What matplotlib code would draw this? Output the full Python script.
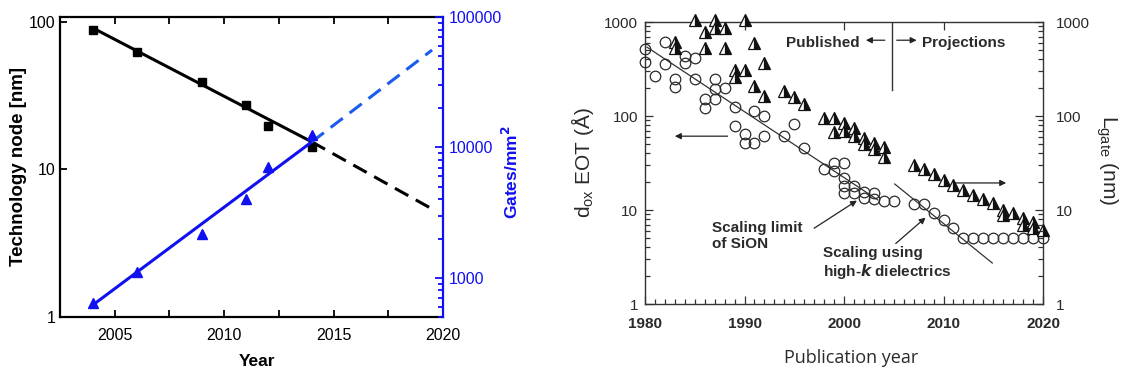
import matplotlib
matplotlib.use('Agg')
import matplotlib.pyplot as plt
from matplotlib.ticker import LogLocator, NullFormatter, FixedLocator, MultipleLocator, FuncFormatter

plt.rcParams['font.family'] = ['Liberation Sans', 'DejaVu Sans']

# ---------------- Left panel data ----------------
node_years = [2004, 2006, 2009, 2011, 2012, 2014]
node_nm = [88, 63, 39, 27.5, 19.7, 14.2]
gate_years = [2004, 2006, 2009, 2011, 2012, 2014]
gates_mm2 = [640, 1110, 2170, 4020, 7070, 12400]
node_fit_years = [2004, 2014]
node_fit = [91, 15.4]
node_proj_years = [2014, 2019.5]
node_proj = [15.4, 5.4]
gate_fit_years = [2004, 2014]
gate_fit = [618, 11000]
gate_proj_years = [2014, 2019.5]
gate_proj = [11000, 55800]
left_xticks = [2005, 2010, 2015, 2020]

# ---------------- Right panel data ----------------
eot_years = [1980, 1980, 1981, 1982, 1982, 1983, 1983, 1984, 1984, 1985, 1985,
             1986, 1986, 1987, 1987, 1987, 1988, 1989, 1989, 1990, 1990,
             1991, 1991, 1992, 1992, 1994, 1995, 1996, 1998, 1999, 1999,
             2000, 2000, 2000, 2000, 2001, 2001, 2002, 2002, 2003, 2003,
             2004, 2005, 2007, 2008, 2009, 2010, 2011,
             2012, 2013, 2014, 2015, 2016, 2017, 2018, 2019, 2020]
eot_A = [515, 375, 265, 610, 360, 250, 205, 440, 365, 410, 250,
         150, 122, 250, 195, 150, 200, 125, 78, 65, 52,
         112, 52, 100, 62, 62, 82, 46, 27, 32, 26,
         32, 22, 18, 15, 18, 15, 15.5, 13.5, 15, 13,
         12.5, 12.5, 11.5, 11.5, 9.3, 7.8, 6.5,
         5.0, 5.0, 5.0, 5.0, 5.0, 5.0, 5.0, 5.0, 5.0]
lgate_years = [1983, 1983, 1985, 1986, 1986, 1987, 1987, 1988, 1988, 1989, 1989,
               1990, 1990, 1991, 1991, 1992, 1992, 1994, 1995, 1996, 1998,
               1999, 1999, 2000, 2000, 2001, 2001, 2002, 2002, 2003, 2003,
               2004, 2004, 2007, 2008, 2009, 2010, 2011, 2012, 2013, 2014,
               2015, 2016, 2016, 2017, 2018, 2018, 2019, 2019, 2020]
lgate_nm = [610, 530, 1050, 780, 530, 1050, 870, 870, 530, 310, 260,
            1050, 310, 600, 210, 370, 165, 185, 160, 135, 95,
            95, 68, 84, 70, 75, 62, 58, 50, 52, 45,
            47, 37, 30, 27, 24, 21, 18.5, 16.5, 14.5, 13,
            12, 10, 8.8, 9.3, 8.2, 7, 7.5, 6.5, 6.1]
sion_fit_years = [1980.2, 2003.4]
sion_fit = [540, 12.8]
highk_fit_years = [2005.1, 2014.9]
highk_fit = [18.9, 2.73]
right_xticks = [1980, 1990, 2000, 2010, 2020]
right_yticks = [1, 10, 100, 1000]

W, H = 1121, 374
fig = plt.figure(figsize=(W / 100, H / 100), dpi=100)


def fx(px):
    return px / W


def fy(py):
    return 1 - py / H


BLUE = '#1010f0'
BLUE_D = '#1a5cf0'

# ================= Left panel =================
ax1 = fig.add_axes([fx(60), fy(317), fx(443) - fx(60), fy(17) - fy(317)])
ax1.set_yscale('log')
ax1.set_xlim(2002.5, 2020)
ax1.set_ylim(1, 108)
ax1.plot(node_fit_years, node_fit, color='black', lw=2.2, solid_capstyle='butt', zorder=3)
ax1.plot(node_proj_years, node_proj, color='black', lw=2.2, ls=(0, (5.0, 2.8)), zorder=3)
ax1.plot(node_years, node_nm, 's', color='black', ms=5.5, zorder=4)
ax1.set_xticks(left_xticks)
ax1.xaxis.set_minor_locator(MultipleLocator(2.5))
ax1.yaxis.set_major_locator(FixedLocator([1, 10, 100]))
ax1.yaxis.set_minor_locator(FixedLocator([]))
ax1.yaxis.set_major_formatter(FuncFormatter(lambda v, p: '%d' % v))
ax1.tick_params(axis='both', which='both', direction='in', top=True, labelsize=11.5, width=1.3)
ax1.tick_params(axis='x', which='major', length=5, pad=8)
ax1.tick_params(axis='x', which='minor', length=5)
ax1.tick_params(axis='y', which='major', length=5, pad=3)
ax1.tick_params(axis='y', right=False)
for s in ['left', 'bottom', 'top']:
    ax1.spines[s].set_linewidth(1.6)
ax1.spines['right'].set_visible(False)

ax2 = ax1.twinx()
ax2.set_yscale('log')
ax2.set_ylim(500, 100000)
ax2.plot(gate_fit_years, gate_fit, color=BLUE, lw=2.2, solid_capstyle='butt', zorder=3)
ax2.plot(gate_proj_years, gate_proj, color=BLUE_D, lw=2.2, ls=(0, (5.0, 2.8)), zorder=3)
ax2.plot(gate_years, gates_mm2, '^', color=BLUE, ms=6.5, zorder=4)
ax2.yaxis.set_major_locator(FixedLocator([1000, 10000, 100000]))
ax2.yaxis.set_minor_locator(LogLocator(base=10, subs=range(2, 10)))
ax2.yaxis.set_minor_formatter(NullFormatter())
ax2.yaxis.set_major_formatter(FuncFormatter(lambda v, p: '%d' % v))
ax2.tick_params(axis='y', which='both', direction='in', colors=BLUE, labelsize=11.5, width=1.3, pad=4)
ax2.tick_params(axis='y', which='major', length=6)
ax2.tick_params(axis='y', which='minor', length=3.5)
ax2.spines['right'].set_color(BLUE)
ax2.spines['right'].set_linewidth(1.6)
for s in ['left', 'bottom', 'top']:
    ax2.spines[s].set_visible(False)

fig.text(fx(19), fy(167), 'Technology node [nm]', rotation=90, ha='center', va='center',
         fontsize=13.5, fontweight='bold')
fig.text(fx(257), fy(362), 'Year', ha='center', va='center', fontsize=12.5, fontweight='bold')
fig.text(fx(511), fy(172), 'Gates/mm$^\\mathbf{2}$', rotation=90, ha='center', va='center',
         fontsize=12.5, fontweight='bold', color=BLUE)

# ================= Right panel =================
TXT = '#2a2a2a'
ax3 = fig.add_axes([fx(645), fy(304), fx(1043) - fx(645), fy(22) - fy(304)])
ax3.set_yscale('log')
ax3.set_xlim(1980, 2020)
ax3.set_ylim(1, 1000)
ax3.plot(sion_fit_years, sion_fit, color='#333333', lw=0.9, zorder=2)
ax3.plot(highk_fit_years, highk_fit, color='#333333', lw=0.9, zorder=2)
ax3.plot(eot_years, eot_A, 'o', ms=7.6, mfc='none', mec='#2a2a2a', mew=0.9, zorder=3, clip_on=False)
ax3.plot(lgate_years, lgate_nm, '^', ms=8.5, fillstyle='right', mfc='#111111', mfcalt='white',
         mec='#111111', mew=0.9, zorder=4, clip_on=False)

ax3.set_xticks(right_xticks)
ax3.xaxis.set_minor_locator(MultipleLocator(1))
ax3.yaxis.set_major_locator(FixedLocator(right_yticks))
ax3.yaxis.set_minor_locator(LogLocator(base=10, subs=range(2, 10)))
ax3.yaxis.set_minor_formatter(NullFormatter())
ax3.yaxis.set_major_formatter(FuncFormatter(lambda v, p: '%d' % v))
ax3.tick_params(axis='both', which='both', direction='in', color='#333333', width=0.9)
ax3.tick_params(axis='both', which='major', length=6)
ax3.tick_params(axis='both', which='minor', length=3.5)
ax3.tick_params(axis='x', which='major', top=True, labelsize=11, pad=9, labelcolor=TXT)
ax3.tick_params(axis='x', which='minor', top=False)
ax3.tick_params(axis='y', which='both', left=True, right=True, labelsize=11, pad=5,
                labelcolor=TXT)
for lab in ax3.get_xticklabels():
    lab.set_fontweight('bold')
for s in ax3.spines.values():
    s.set_linewidth(1.0)
    s.set_color('#333333')

ax4 = ax3.twinx()
ax4.set_yscale('log')
ax4.set_ylim(1, 1000)
ax4.yaxis.set_major_locator(FixedLocator(right_yticks))
ax4.yaxis.set_minor_locator(LogLocator(base=10, subs=range(2, 10)))
ax4.yaxis.set_minor_formatter(NullFormatter())
ax4.yaxis.set_major_formatter(FuncFormatter(lambda v, p: '%d' % v))
ax4.tick_params(axis='y', which='both', direction='in', color='#333333', width=0.9,
                labelsize=11, pad=9, labelcolor=TXT)
ax4.tick_params(axis='y', which='major', length=6)
ax4.tick_params(axis='y', which='minor', length=3.5)
for s in ax4.spines.values():
    s.set_visible(False)

# annotations
bold = dict(fontsize=11, fontweight='bold', color=TXT)
ax3.text(2001.6, 600, 'Published', ha='right', va='center', **bold)
ax3.text(2007.8, 600, 'Projections', ha='left', va='center', **bold)
ax3.plot([2004.8, 2004.8], [1000, 190], color='#333333', lw=1.0)
arr = dict(arrowstyle='-|>', color='#222222', lw=0.9, mutation_scale=9, shrinkA=0, shrinkB=0)
ax3.annotate('', xy=(2002.2, 640), xytext=(2004.1, 640), arrowprops=arr)
ax3.annotate('', xy=(2007.3, 640), xytext=(2005.3, 640), arrowprops=arr)
ax3.annotate('', xy=(1983.0, 61), xytext=(1988.3, 61), arrowprops=arr)
ax3.annotate('', xy=(2016.3, 19.4), xytext=(2011.2, 19.4), arrowprops=arr)
ax3.annotate('', xy=(2001.3, 12.6), xytext=(1997.0, 6.4), arrowprops=arr)
ax3.annotate('', xy=(2008.2, 8.3), xytext=(2005.2, 4.4), arrowprops=arr)
ax3.text(1986.7, 5.3, 'Scaling limit\nof SiON', ha='left', va='center', linespacing=1.15, **bold)
ax3.text(1997.9, 2.7, 'Scaling using\nhigh-$\\boldsymbol{k}$ dielectrics', ha='left', va='center',
         linespacing=1.15, **bold)

fig.text(fx(583), fy(163), 'd$_\\mathregular{ox}$ EOT (Å)', rotation=90, ha='center', va='center',
         fontsize=15, color=TXT)
fig.text(fx(1107), fy(160), 'L$_\\mathregular{gate}$ (nm)', rotation=270, ha='center', va='center',
         fontsize=15, color=TXT)
fig.text(fx(851), fy(358), 'Publication year', ha='center', va='center', fontsize=13,
         color=TXT, family=['Open Sans', 'DejaVu Sans'])

fig.savefig('out.png', dpi=100)
